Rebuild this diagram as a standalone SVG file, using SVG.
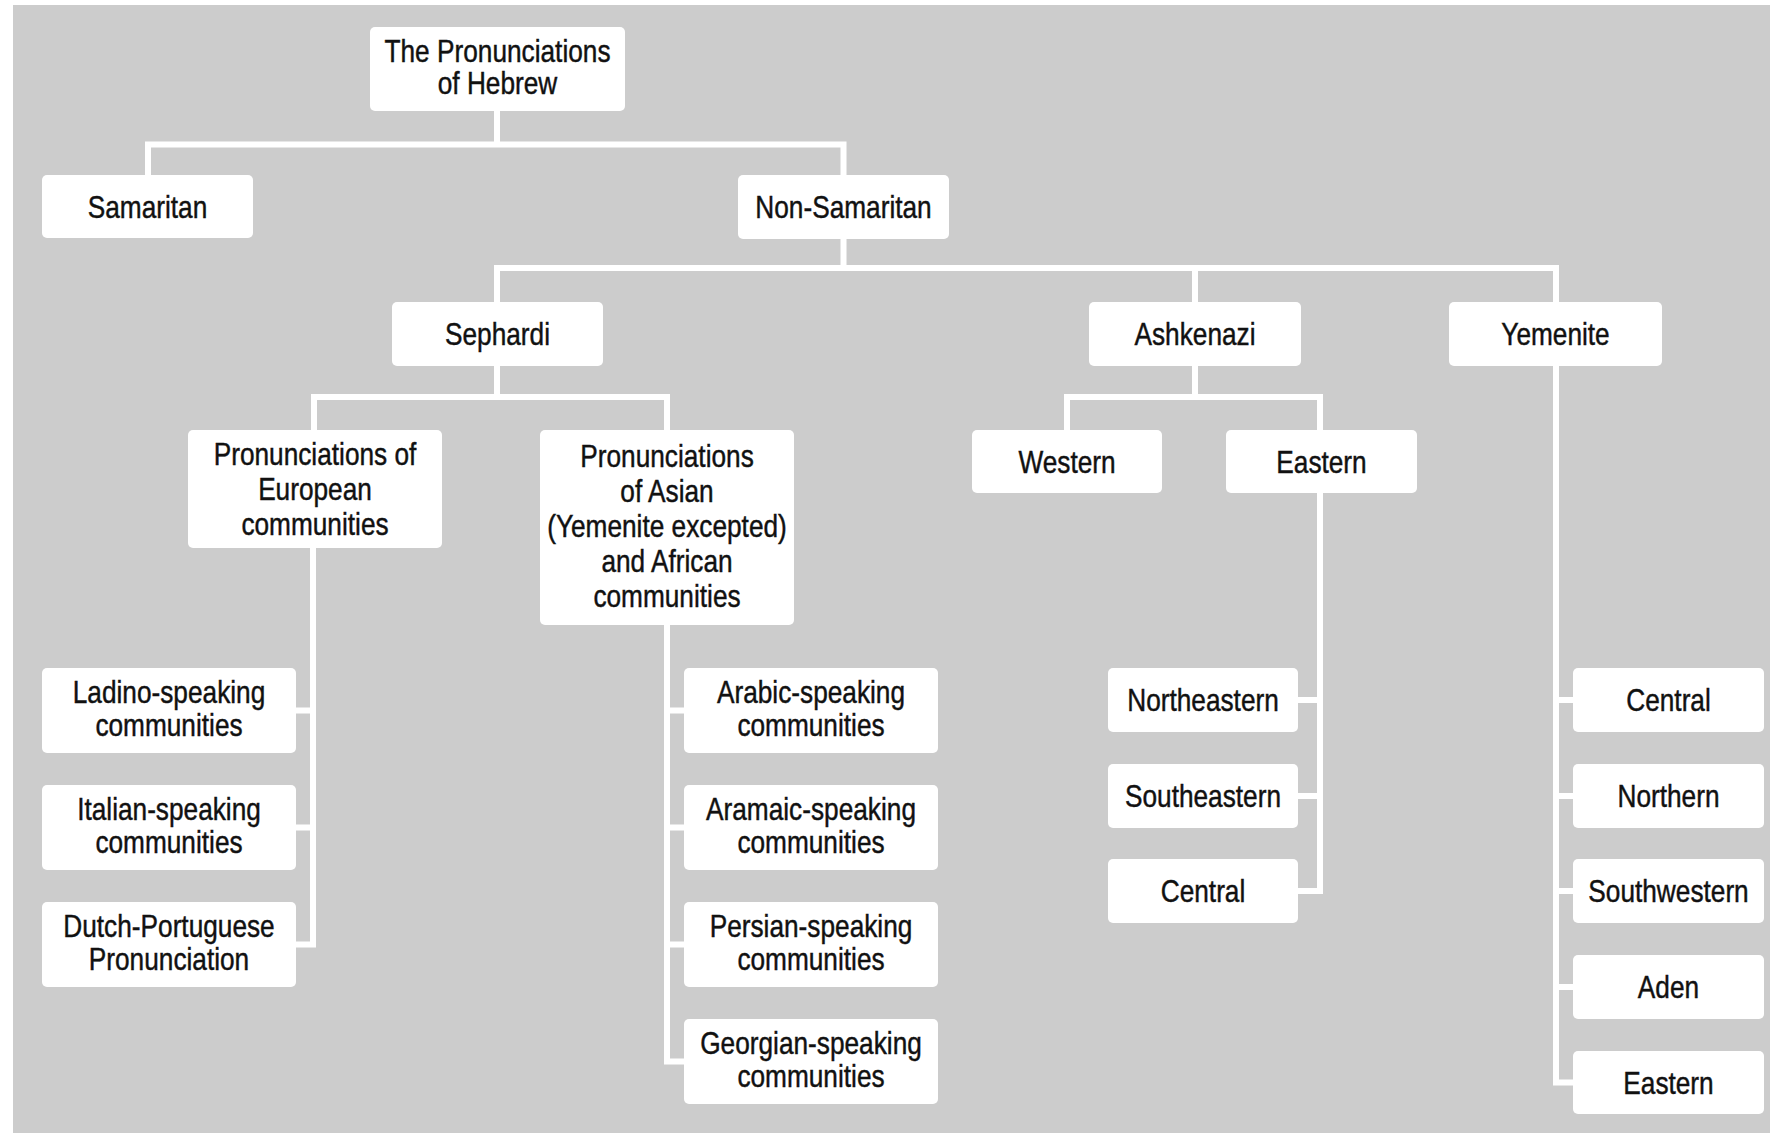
<svg xmlns="http://www.w3.org/2000/svg" width="1770" height="1133" viewBox="0 0 1770 1133">
<style>
.bg{fill:#cccccc}
.box{fill:#ffffff;rx:5px;ry:5px}
.t{font-family:"Liberation Sans",Arial,sans-serif;font-size:32px;fill:#111111;stroke:#111111;stroke-width:0.45;text-anchor:middle}
.conn{fill:none;stroke:#ffffff;stroke-width:6;stroke-linejoin:miter;stroke-linecap:square}
</style>
<rect x="0" y="0" width="1770" height="1133" fill="#ffffff"/>
<rect class="bg" x="13" y="5" width="1757" height="1128"/>
<g id="connectors">
<path class="conn" d="M497,111 V144.5 M148,175 V144.5 H843.5 V175"/>
<path class="conn" d="M843.5,239 V268 M497,302 V268 H1556 V302 M1195,268 V302"/>
<path class="conn" d="M497,366 V397 M314,430 V397 H667 V430"/>
<path class="conn" d="M313,548 V944.5 H296 M296,710.5 H313 M296,827.5 H313"/>
<path class="conn" d="M667,625 V1061.5 H684 M667,710.5 H684 M667,827.5 H684 M667,944.5 H684"/>
<path class="conn" d="M1195,366 V397 M1067,430 V397 H1320 V430"/>
<path class="conn" d="M1320,493 V891 H1298 M1298,700 H1320 M1298,796 H1320"/>
<path class="conn" d="M1556,366 V1082.5 H1573 M1556,700 H1573 M1556,796 H1573 M1556,891 H1573 M1556,987 H1573"/>
</g>
<g id="root"><rect class="box" x="370" y="27" width="255" height="84"/><text class="t" transform="translate(497.5 0) scale(0.82 1)" y="62">The Pronunciations</text><text class="t" transform="translate(497.5 0) scale(0.82 1)" y="94.5">of Hebrew</text></g>
<g id="samaritan"><rect class="box" x="42" y="175" width="211" height="63"/><text class="t" transform="translate(147.5 0) scale(0.82 1)" y="218">Samaritan</text></g>
<g id="non-samaritan"><rect class="box" x="738" y="175" width="211" height="64"/><text class="t" transform="translate(843.5 0) scale(0.82 1)" y="218.5">Non-Samaritan</text></g>
<g id="sephardi"><rect class="box" x="392" y="302" width="211" height="64"/><text class="t" transform="translate(497.5 0) scale(0.82 1)" y="345.5">Sephardi</text></g>
<g id="ashkenazi"><rect class="box" x="1089" y="302" width="212" height="64"/><text class="t" transform="translate(1195 0) scale(0.82 1)" y="345.5">Ashkenazi</text></g>
<g id="yemenite"><rect class="box" x="1449" y="302" width="213" height="64"/><text class="t" transform="translate(1555.5 0) scale(0.82 1)" y="345.5">Yemenite</text></g>
<g id="european"><rect class="box" x="188" y="430" width="254" height="118"/><text class="t" transform="translate(315 0) scale(0.82 1)" y="465">Pronunciations of</text><text class="t" transform="translate(315 0) scale(0.82 1)" y="500">European</text><text class="t" transform="translate(315 0) scale(0.82 1)" y="535">communities</text></g>
<g id="asian-african"><rect class="box" x="540" y="430" width="254" height="195"/><text class="t" transform="translate(667 0) scale(0.82 1)" y="467">Pronunciations</text><text class="t" transform="translate(667 0) scale(0.82 1)" y="502">of Asian</text><text class="t" transform="translate(667 0) scale(0.82 1)" y="537">(Yemenite excepted)</text><text class="t" transform="translate(667 0) scale(0.82 1)" y="572">and African</text><text class="t" transform="translate(667 0) scale(0.82 1)" y="607">communities</text></g>
<g id="western"><rect class="box" x="972" y="430" width="190" height="63"/><text class="t" transform="translate(1067 0) scale(0.82 1)" y="473">Western</text></g>
<g id="eastern"><rect class="box" x="1226" y="430" width="191" height="63"/><text class="t" transform="translate(1321.5 0) scale(0.82 1)" y="473">Eastern</text></g>
<g id="ladino"><rect class="box" x="42" y="668" width="254" height="85"/><text class="t" transform="translate(169 0) scale(0.82 1)" y="703.5">Ladino-speaking</text><text class="t" transform="translate(169 0) scale(0.82 1)" y="736">communities</text></g>
<g id="italian"><rect class="box" x="42" y="785" width="254" height="85"/><text class="t" transform="translate(169 0) scale(0.82 1)" y="820.5">Italian-speaking</text><text class="t" transform="translate(169 0) scale(0.82 1)" y="853">communities</text></g>
<g id="dutch-portuguese"><rect class="box" x="42" y="902" width="254" height="85"/><text class="t" transform="translate(169 0) scale(0.82 1)" y="937.5">Dutch-Portuguese</text><text class="t" transform="translate(169 0) scale(0.82 1)" y="970">Pronunciation</text></g>
<g id="arabic"><rect class="box" x="684" y="668" width="254" height="85"/><text class="t" transform="translate(811 0) scale(0.82 1)" y="703.5">Arabic-speaking</text><text class="t" transform="translate(811 0) scale(0.82 1)" y="736">communities</text></g>
<g id="aramaic"><rect class="box" x="684" y="785" width="254" height="85"/><text class="t" transform="translate(811 0) scale(0.82 1)" y="820.5">Aramaic-speaking</text><text class="t" transform="translate(811 0) scale(0.82 1)" y="853">communities</text></g>
<g id="persian"><rect class="box" x="684" y="902" width="254" height="85"/><text class="t" transform="translate(811 0) scale(0.82 1)" y="937.5">Persian-speaking</text><text class="t" transform="translate(811 0) scale(0.82 1)" y="970">communities</text></g>
<g id="georgian"><rect class="box" x="684" y="1019" width="254" height="85"/><text class="t" transform="translate(811 0) scale(0.82 1)" y="1054.5">Georgian-speaking</text><text class="t" transform="translate(811 0) scale(0.82 1)" y="1087">communities</text></g>
<g id="ash-northeastern"><rect class="box" x="1108" y="668" width="190" height="64"/><text class="t" transform="translate(1203 0) scale(0.82 1)" y="711.5">Northeastern</text></g>
<g id="ash-southeastern"><rect class="box" x="1108" y="764" width="190" height="64"/><text class="t" transform="translate(1203 0) scale(0.82 1)" y="807.5">Southeastern</text></g>
<g id="ash-central"><rect class="box" x="1108" y="859" width="190" height="64"/><text class="t" transform="translate(1203 0) scale(0.82 1)" y="902.5">Central</text></g>
<g id="yem-central"><rect class="box" x="1573" y="668" width="191" height="64"/><text class="t" transform="translate(1668.5 0) scale(0.82 1)" y="711.5">Central</text></g>
<g id="yem-northern"><rect class="box" x="1573" y="764" width="191" height="64"/><text class="t" transform="translate(1668.5 0) scale(0.82 1)" y="807.5">Northern</text></g>
<g id="yem-southwestern"><rect class="box" x="1573" y="859" width="191" height="64"/><text class="t" transform="translate(1668.5 0) scale(0.82 1)" y="902.5">Southwestern</text></g>
<g id="yem-aden"><rect class="box" x="1573" y="955" width="191" height="64"/><text class="t" transform="translate(1668.5 0) scale(0.82 1)" y="998.5">Aden</text></g>
<g id="yem-eastern"><rect class="box" x="1573" y="1051" width="191" height="63"/><text class="t" transform="translate(1668.5 0) scale(0.82 1)" y="1094">Eastern</text></g>
</svg>
